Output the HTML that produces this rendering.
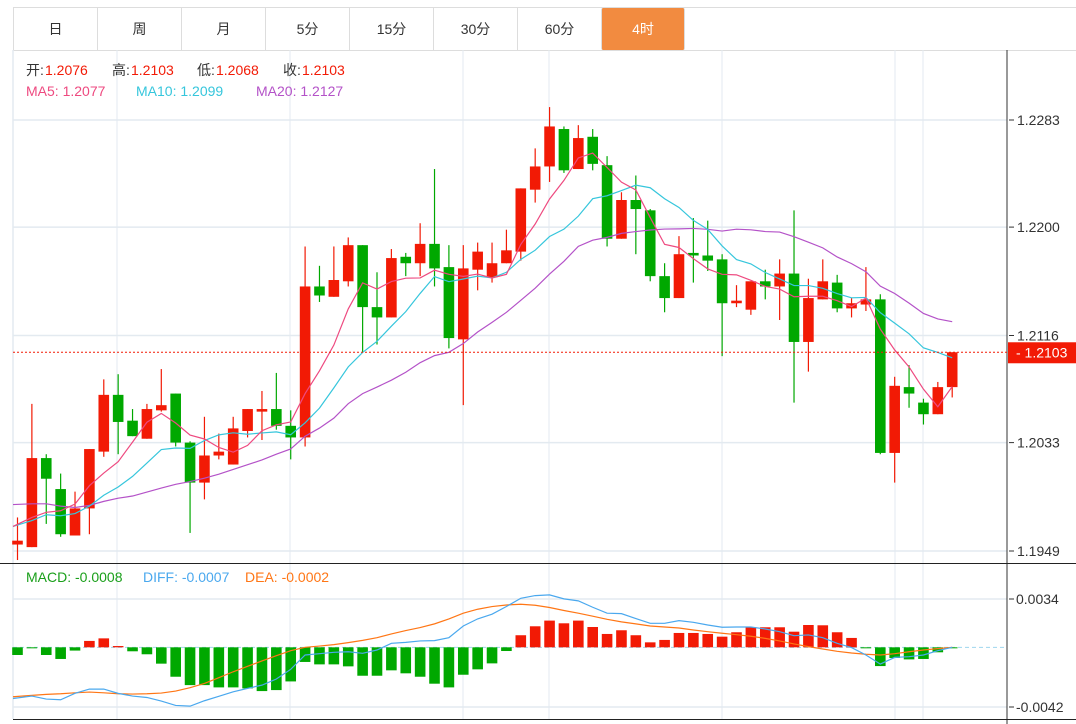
<!DOCTYPE html>
<html><head><meta charset="utf-8">
<style>
html,body{margin:0;padding:0;background:#fff;}
body{width:1076px;height:724px;overflow:hidden;position:relative;font-family:"Liberation Sans","Noto Sans CJK SC",sans-serif;}
#tabs{position:absolute;left:13px;top:7px;width:1063px;height:42px;border-top:1px solid #ddd;border-bottom:1px solid #ddd;}
.tab{position:absolute;top:0;height:42px;line-height:42px;text-align:center;font-size:14px;color:#333;border-left:1px solid #ddd;box-sizing:border-box;}
.tab.active{background:#f28b40;color:#fff;border-radius:2px;}
svg{position:absolute;left:0;top:0;}
</style></head>
<body>
<div id="tabs">
  <div class="tab" style="left:0;width:84px">日</div>
  <div class="tab" style="left:84px;width:84px">周</div>
  <div class="tab" style="left:168px;width:84px">月</div>
  <div class="tab" style="left:252px;width:84px">5分</div>
  <div class="tab" style="left:336px;width:84px">15分</div>
  <div class="tab" style="left:420px;width:84px">30分</div>
  <div class="tab" style="left:504px;width:84px">60分</div>
  <div class="tab active" style="left:588px;width:84px;border-right:1px solid #ddd">4时</div>
</div>
<svg id="chart" width="1076" height="724"></svg>
<script>
var opens=[1.1954,1.1952,1.2021,1.1997,1.1961,1.1982,1.2026,1.2070,1.2050,1.2036,1.2058,1.2071,1.2033,1.2002,1.2023,1.2016,1.2042,1.2057,1.2059,1.2046,1.2037,1.2154,1.2146,1.2158,1.2186,1.2138,1.2130,1.2177,1.2172,1.2187,1.2169,1.2113,1.2167,1.2161,1.2172,1.2181,1.2229,1.2247,1.2276,1.2245,1.2270,1.2248,1.2191,1.2221,1.2213,1.2162,1.2145,1.2180,1.2178,1.2175,1.2141,1.2136,1.2158,1.2154,1.2164,1.2111,1.2144,1.2157,1.2137,1.2140,1.2144,1.2025,1.2076,1.2064,1.2055,1.2076];
var highs=[1.1975,1.2063,1.2024,1.2009,1.1995,1.2028,1.2082,1.2086,1.2059,1.2063,1.2090,1.2071,1.2034,1.2053,1.2040,1.2053,1.2059,1.2073,1.2087,1.2058,1.2185,1.2170,1.2185,1.2192,1.2186,1.2165,1.2183,1.2180,1.2203,1.2245,1.2186,1.2186,1.2188,1.2188,1.2198,1.2230,1.2261,1.2293,1.2278,1.2279,1.2276,1.2255,1.2227,1.2240,1.2214,1.2172,1.2193,1.2207,1.2205,1.2179,1.2155,1.2158,1.2167,1.2175,1.2213,1.2160,1.2175,1.2163,1.2145,1.2169,1.2148,1.2084,1.2093,1.2067,1.2080,1.2103];
var lows=[1.1942,1.1952,1.1970,1.1960,1.1961,1.1962,1.2022,1.2024,1.2038,1.2036,1.2057,1.2030,1.1963,1.1989,1.2020,1.2016,1.2037,1.2035,1.2043,1.2020,1.2030,1.2142,1.2146,1.2154,1.2103,1.2109,1.2130,1.2162,1.2162,1.2154,1.2106,1.2062,1.2151,1.2157,1.2172,1.2174,1.2219,1.2235,1.2242,1.2245,1.2244,1.2185,1.2191,1.2179,1.2158,1.2134,1.2145,1.2157,1.2166,1.2100,1.2138,1.2132,1.2144,1.2128,1.2064,1.2088,1.2144,1.2134,1.2130,1.2135,1.2024,1.2002,1.2060,1.2047,1.2055,1.2068];
var closes=[1.1957,1.2021,1.2005,1.1962,1.1982,1.2028,1.2070,1.2049,1.2038,1.2059,1.2062,1.2033,1.2002,1.2023,1.2026,1.2044,1.2059,1.2059,1.2046,1.2037,1.2154,1.2147,1.2159,1.2186,1.2138,1.2130,1.2176,1.2172,1.2187,1.2168,1.2114,1.2168,1.2181,1.2172,1.2182,1.2230,1.2247,1.2278,1.2244,1.2269,1.2249,1.2191,1.2221,1.2214,1.2162,1.2145,1.2179,1.2178,1.2174,1.2141,1.2143,1.2158,1.2154,1.2164,1.2111,1.2145,1.2158,1.2137,1.2141,1.2144,1.2025,1.2077,1.2071,1.2055,1.2076,1.2103];
var prevCloses=[1.2010,1.2005,1.1998,1.2003,1.1995,1.2008,1.2000,1.2004,1.1997,1.2000,1.1975,1.1960,1.1970,1.1965,1.1970,1.1986,1.1985,1.1956,1.1956];
var priceTicks=[1.2283,1.2200,1.2116,1.2033,1.1949];
var lastPrice=1.2103;
// MACD values in units of 0.0001
var macdHist=[-5.4,-0.7,-5.4,-8.2,-2.3,4.5,6.3,0.9,-2.8,-4.9,-11.5,-20.7,-26.6,-26.6,-28.2,-28.2,-28.9,-30.8,-30.1,-24.0,-10.3,-12.0,-12.0,-13.4,-20.0,-20.0,-16.2,-18.3,-20.7,-25.6,-28.2,-19.3,-15.5,-11.3,-2.6,8.5,14.8,18.8,16.9,18.8,14.3,9.4,12.0,8.5,3.5,5.2,10.1,10.1,9.4,7.5,10.6,14.1,14.1,14.1,11.0,15.7,15.5,10.6,6.6,-0.7,-13.2,-7.5,-8.5,-8.2,-3.5,-0.2];
var diffVals=[-36.0,-34.3,-36.4,-36.9,-32.4,-29.4,-29.4,-32.4,-34.3,-35.3,-37.8,-40.9,-41.4,-37.6,-34.5,-31.3,-28.9,-26.6,-22.3,-15.5,-5.4,-4.5,-3.5,-3.1,-4.2,-1.9,2.8,3.5,4.5,4.7,6.8,15.0,20.0,23.3,28.7,34.5,36.4,36.9,34.1,32.7,28.2,24.0,23.7,20.2,16.9,16.9,18.8,17.6,15.7,14.1,14.3,14.3,12.9,11.0,8.2,8.7,6.8,2.8,-0.2,-5.4,-11.8,-7.1,-6.6,-5.4,-2.4,0.0];
var deaVals=[-34.8,-33.8,-33.1,-32.7,-32.0,-31.5,-32.0,-32.7,-32.9,-32.7,-32.2,-30.8,-28.4,-25.4,-21.4,-17.2,-13.4,-9.6,-5.9,-2.4,0,0.9,1.9,3.3,4.9,6.8,9.4,11.8,13.9,16.5,20.0,24.0,26.8,28.7,29.8,30.3,29.6,28.0,25.9,24.0,21.9,19.7,17.9,16.5,15.0,14.3,13.6,12.2,11.0,9.9,8.9,7.8,6.3,4.5,2.4,0.5,-1.2,-2.8,-4.0,-4.9,-5.4,-4.5,-3.1,-1.9,-0.9,0];
var macdTicks=[34,-42];

var NS='http://www.w3.org/2000/svg';
var svg=document.getElementById('chart');
var RED='#f21a05',GREEN='#00a800';
function el(tag,attrs,parent){var e=document.createElementNS(NS,tag);for(var k in attrs)e.setAttribute(k,attrs[k]);(parent||svg).appendChild(e);return e;}
function xAt(i){return 17.5+i*14.38;}
function yP(p){return 120+(1.2283-p)*12904;}
function yM(v){return 599+(34-v)*(108/76);}

var gridG=el('g',{});


[117,290,463,549,722,895,923].forEach(function(x){el('line',{x1:x,y1:50,x2:x,y2:719,stroke:'#e3eaf0','stroke-width':1},gridG);});
priceTicks.forEach(function(p){el('line',{x1:13,y1:yP(p),x2:1007,y2:yP(p),stroke:'#e3eaf0','stroke-width':1.5},gridG);});
macdTicks.forEach(function(v){el('line',{x1:13,y1:yM(v),x2:1007,y2:yM(v),stroke:'#e3eaf0','stroke-width':1.5},gridG);});
el('line',{x1:13,y1:50,x2:13,y2:719,stroke:'#e3eaf0','stroke-width':1.5},gridG);
el('line',{x1:13,y1:yM(0),x2:1007,y2:yM(0),stroke:'#9fd6ee','stroke-width':1,'stroke-dasharray':'4,3'},gridG);

el('line',{x1:1007,y1:50,x2:1007,y2:724,stroke:'#333','stroke-width':1});
el('line',{x1:0,y1:563.5,x2:1076,y2:563.5,stroke:'#222','stroke-width':1});
el('line',{x1:13,y1:719.5,x2:1076,y2:719.5,stroke:'#222','stroke-width':1});
priceTicks.forEach(function(p){
  var y=yP(p);
  var t=el('line',{x1:1009,y1:y,x2:1014,y2:y,stroke:'#333'});
  
  
  var tx=el('text',{x:1017,y:y+5,'font-size':14,fill:'#333'});
  tx.textContent=p.toFixed(4);
  
  
});
macdTicks.forEach(function(v){
  var y=yM(v);
  el('line',{x1:1009,y1:y,x2:1014,y2:y,stroke:'#333'});
  var tx=el('text',{x:1016,y:y+5,'font-size':14,fill:'#333'});
  tx.textContent=(v/10000).toFixed(4);
  
  
});

var cg=el('g',{});


for(var i=0;i<closes.length;i++){
  var up=closes[i]>=opens[i];var col=up?RED:GREEN;var cx=xAt(i);
  el('line',{x1:cx,y1:yP(highs[i]),x2:cx,y2:yP(lows[i]),stroke:col,'stroke-width':1.2},cg);
  var bodyTop=yP(Math.max(opens[i],closes[i])),bodyBot=yP(Math.min(opens[i],closes[i]));
  var b=el('rect',{x:cx-5.3,y:bodyTop,width:10.6,height:Math.max(1.5,bodyBot-bodyTop),fill:col},cg);
  
  
}

var all=prevCloses.concat(closes);
function ma(n){var out=[];for(var i=0;i<closes.length;i++){var s=0,k=i+prevCloses.length;for(var j=k-n+1;j<=k;j++)s+=all[Math.max(0,j)];out.push(s/n);}return out;}
function poly(vals,yf,color,name,x0){
  var pts=vals.map(function(v,i){return (i===0&&x0!==undefined?x0:xAt(i))+','+yf(v);}).join(' ');
  var p=el('polyline',{points:pts,fill:'none',stroke:color,'stroke-width':1.2});
  
  
}
poly(ma(20),yP,'#b452c8','ma20-line',13);
poly(ma(10),yP,'#36c6dc','ma10-line',13);
poly(ma(5),yP,'#ee4a80','ma5-line',13);

el('line',{x1:13,y1:yP(lastPrice),x2:1007,y2:yP(lastPrice),stroke:'#f21a05','stroke-width':1,'stroke-dasharray':'2,2'});
var lb=el('rect',{x:1008,y:yP(lastPrice)-10,width:68,height:21,fill:'#f21a05'});


var lt=el('text',{x:1016,y:yP(lastPrice)+5,'font-size':14,fill:'#fff'});
lt.textContent='- '+lastPrice.toFixed(4);

var mg=el('g',{});


for(var i=0;i<macdHist.length;i++){
  var v=macdHist[i],y0=yM(0),y1=yM(v);
  var r=el('rect',{x:xAt(i)-5.3,y:Math.min(y0,y1),width:10.6,height:Math.max(1,Math.abs(y1-y0)),fill:v>=0?RED:GREEN},mg);
  
  
}
poly(deaVals,yM,'#ff7615','dea-line',13);
poly(diffVals,yM,'#4aa8ee','diff-line',13);

function txt(x,y,s,color,name){var t=el('text',{x:x,y:y,'font-size':14,fill:color});t.textContent=s;return t;}
txt(26,75,'开:','#333','open-label');txt(45,75,'1.2076',RED,'open-value');
txt(112,75,'高:','#333','high-label');txt(131,75,'1.2103',RED,'high-value');
txt(197,75,'低:','#333','low-label');txt(216,75,'1.2068',RED,'low-value');
txt(283,75,'收:','#333','close-label');txt(302,75,'1.2103',RED,'close-value');
txt(26,96,'MA5: 1.2077','#ee4a80','ma5-legend');
txt(136,96,'MA10: 1.2099','#36c6dc','ma10-legend');
txt(256,96,'MA20: 1.2127','#b452c8','ma20-legend');
txt(26,582,'MACD: -0.0008','#1a9f1a','macd-legend');
txt(143,582,'DIFF: -0.0007','#4aa8ee','diff-legend');
txt(245,582,'DEA: -0.0002','#ff7615','dea-legend');
</script>
</body></html>
